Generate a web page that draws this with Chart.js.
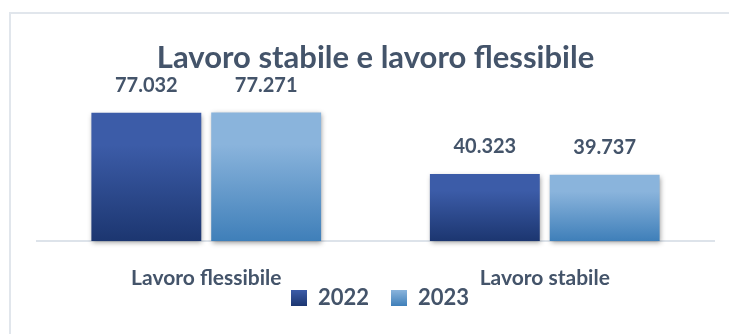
<!DOCTYPE html>
<html lang="it">
<head>
<meta charset="utf-8">
<script src="https://cdn.jsdelivr.net/npm/chart.js@4.4.1/dist/chart.umd.min.js"></script>
<style>
  html, body { margin: 0; padding: 0; background: #ffffff; }
  #wrap { position: relative; width: 729px; height: 334px; overflow: hidden; }
  #frame { position: absolute; left: 9px; top: 12px; width: 800px; height: 400px;
           border: 2px solid #e1e6ec; box-sizing: border-box; }
  #chart { position: absolute; left: 0; top: 0; }
</style>
</head>
<body>
<div id="wrap">
  <div id="frame"></div>
  <canvas id="chart" width="729" height="334"></canvas>
</div>
<script>
// Occupati per tipologia di contratto
const categories = ['Lavoro flessibile', 'Lavoro stabile'];
const seriesNames = ['2022', '2023'];
const values2022 = [77032, 40323];
const values2023 = [77271, 39737];

const FONT = 'Lato, "Open Sans", sans-serif';
const TEXT = '#44546a';

// gradient colour pairs (top, bottom) for each series
const palette = [
  ['#3c5ca8', '#1c3670'],
  ['#8ab4dc', '#3f7fb9']
];

function formatIt(v) {
  return String(Math.round(v)).replace(/\B(?=(\d{3})+(?!\d))/g, '.');
}

function barGradient(index) {
  return function (ctx) {
    const chart = ctx.chart;
    const y = chart.scales.y;
    if (!y || ctx.raw == null) return palette[index][0];
    const top = y.getPixelForValue(ctx.raw);
    const base = y.getPixelForValue(0);
    if (!isFinite(top) || !isFinite(base) || top === base) return palette[index][0];
    const g = chart.ctx.createLinearGradient(0, top, 0, base);
    g.addColorStop(0, palette[index][0]);
    g.addColorStop(0.25, palette[index][0]);
    g.addColorStop(1, palette[index][1]);
    return g;
  };
}

// legend markers: a 16px gradient square, preceded by blank space that
// separates it from the previous legend entry
const SWATCH_GAP = 22;
function legendSwatch(index) {
  const c = document.createElement('canvas');
  c.width = SWATCH_GAP + 16; c.height = 16;
  const x = c.getContext('2d');
  const g = x.createLinearGradient(0, 0, 0, 16);
  g.addColorStop(0, palette[index][0]);
  g.addColorStop(1, palette[index][1]);
  x.fillStyle = g;
  x.fillRect(SWATCH_GAP, 0, 16, 16);
  return c;
}
const swatches = [legendSwatch(0), legendSwatch(1)];

// soft drop shadow behind the bars
const barShadow = {
  id: 'barShadow',
  beforeDatasetsDraw(chart) {
    const c = chart.ctx;
    c.save();
    c.shadowColor = 'rgba(0,0,0,0.38)';
    c.shadowBlur = 5;
    c.shadowOffsetX = 1;
    c.shadowOffsetY = 2;
  },
  afterDatasetsDraw(chart) {
    chart.ctx.restore();
  }
};

// value printed above each bar
const valueLabels = {
  id: 'valueLabels',
  afterDraw(chart) {
    const c = chart.ctx;
    c.save();
    c.font = 'bold 20px ' + FONT;
    c.fillStyle = TEXT;
    c.textAlign = 'center';
    c.textBaseline = 'middle';
    chart.data.datasets.forEach((ds, di) => {
      chart.getDatasetMeta(di).data.forEach((bar, i) => {
        c.fillText(formatIt(ds.data[i]), bar.x, bar.y - 27);
      });
    });
    c.restore();
  }
};

new Chart(document.getElementById('chart'), {
  type: 'bar',
  data: {
    labels: categories,
    datasets: [
      { label: seriesNames[0], data: values2022, backgroundColor: barGradient(0), clip: false },
      { label: seriesNames[1], data: values2023, backgroundColor: barGradient(1), clip: false }
    ]
  },
  options: {
    responsive: false,
    animation: false,
    events: [],
    categoryPercentage: 0.708,
    barPercentage: 0.917,
    layout: { padding: { left: 24, right: 15, top: 0, bottom: 15 } },
    plugins: {
      title: {
        display: true,
        fullSize: false,
        text: 'Lavoro stabile e lavoro flessibile',
        color: TEXT,
        font: { family: FONT, size: 31, weight: 'bold' },
        padding: { top: 39, bottom: 15 }
      },
      legend: {
        position: 'bottom',
        labels: {
          usePointStyle: true,
          pointStyleWidth: SWATCH_GAP + 16,
          boxWidth: 16,
          boxHeight: 16,
          padding: 0,
          color: TEXT,
          font: { family: FONT, size: 22, weight: 'bold' },
          generateLabels(chart) {
            const items = Chart.defaults.plugins.legend.labels.generateLabels(chart);
            items.forEach((it, i) => { it.pointStyle = swatches[i]; });
            return items;
          }
        }
      },
      tooltip: { enabled: false }
    },
    scales: {
      x: {
        grid: { display: false },
        border: { display: true, color: '#dde3ea', width: 2 },
        ticks: { color: TEXT, font: { family: FONT, size: 21, weight: 'bold' }, padding: 17 },
        afterFit(axis) { axis.height = 46; }
      },
      y: {
        min: 0,
        max: 90000,
        grid: { display: false },
        border: { display: false },
        ticks: { display: false },
        afterFit(axis) { axis.width = 13; }
      }
    }
  },
  plugins: [barShadow, valueLabels]
});
</script>
</body>
</html>
